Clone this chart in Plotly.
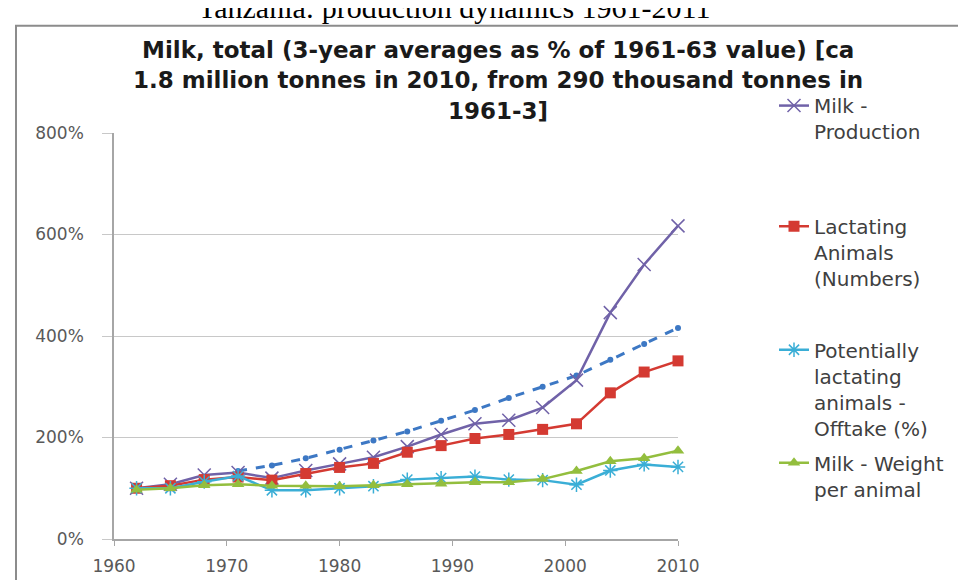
import plotly.graph_objects as go

# 3-year averages, % of 1961-63 value
years = [1962, 1965, 1968, 1971, 1974, 1977, 1980, 1983, 1986, 1989,
         1992, 1995, 1998, 2001, 2004, 2007, 2010]
milk_production = [100, 108, 126, 131, 120, 135, 148, 161, 182, 206,
                   227, 234, 259, 313, 446, 541, 617]
lactating_animals = [100, 105, 117, 122, 116, 129, 141, 149, 171, 184,
                     198, 206, 216, 227, 288, 329, 351]
offtake = [100, 100, 113, 124, 96, 96, 100, 104, 117, 120,
           123, 117, 116, 107, 135, 147, 142]
weight_per_animal = [97, 100, 106, 108, 105, 105, 104, 106, 108, 109,
                     112, 112, 118, 134, 153, 159, 174]
trend_years = [1971, 1974, 1977, 1980, 1983, 1986, 1989, 1992, 1995,
               1998, 2001, 2004, 2007, 2010]
trend = [134, 145, 159, 176, 194, 212, 233, 254, 278, 300, 322, 353, 384, 416]

y_ticks = [0, 200, 400, 600, 800]
y_labels = ["0%", "200%", "400%", "600%", "800%"]
x_ticks = [1960, 1970, 1980, 1990, 2000, 2010]

title_lines = ["Milk, total (3-year averages as % of 1961-63 value) [ca",
               "1.8 million tonnes in 2010, from 290 thousand tonnes in",
               "1961-3]"]
page_title = "Tanzania: production dynamics 1961-2011"

W, H = 966, 580
L, R, T, B = 106, 670, 125, 549


def px_x(p):
    return (p - L) / (R - L)


def px_y(p):
    return (B - p) / (B - T)


fig = go.Figure()

fig.add_scatter(x=trend_years, y=trend, mode="lines+markers", showlegend=False,
                name="trend", line=dict(color="#3D78C4", width=3, dash="dash"),
                marker=dict(size=6, color="#3D78C4"), cliponaxis=False)
fig.add_scatter(x=years, y=milk_production, mode="lines+markers",
                name="Milk -<br>Production", legend="legend",
                line=dict(color="#7062A8", width=2.5),
                marker=dict(symbol="x-thin", size=13, color="#7062A8",
                            line=dict(color="#7062A8", width=1.5)),
                cliponaxis=False)
fig.add_scatter(x=years, y=lactating_animals, mode="lines+markers",
                name="Lactating<br>Animals<br>(Numbers)", legend="legend2",
                line=dict(color="#D43A32", width=2.5),
                marker=dict(symbol="square", size=11, color="#D43A32"),
                cliponaxis=False)
fig.add_scatter(x=years, y=offtake, mode="lines+markers",
                name="Potentially<br>lactating<br>animals -<br>Offtake (%)",
                legend="legend3",
                line=dict(color="#3AAED6", width=2.5),
                marker=dict(symbol="asterisk-open", size=12, color="#3AAED6",
                            line=dict(color="#3AAED6", width=1.5)),
                cliponaxis=False)
fig.add_scatter(x=years, y=weight_per_animal, mode="lines+markers",
                name="Milk - Weight<br>per animal", legend="legend4",
                line=dict(color="#93BE3E", width=2.5),
                marker=dict(symbol="triangle-up", size=11, color="#93BE3E"),
                cliponaxis=False)

leg_font = dict(family="DejaVu Sans", size=20, color="#404040")
leg_common = dict(x=px_x(766), xanchor="left", yanchor="top", valign="top",
                  font=leg_font, bgcolor="rgba(0,0,0,0)", itemwidth=30)

fig.update_layout(
    width=W, height=H,
    margin=dict(l=L, r=W - R, t=T, b=H - B),
    paper_bgcolor="white", plot_bgcolor="white",
    font=dict(family="DejaVu Sans", color="#595959"),
    legend=dict(y=px_y(76), **leg_common),
    legend2=dict(y=px_y(202), **leg_common),
    legend3=dict(y=px_y(331), **leg_common),
    legend4=dict(y=px_y(449), **leg_common),
    xaxis=dict(range=[1960, 2010], tickvals=x_ticks, showgrid=False,
               showline=True, linecolor="#A6A6A6", linewidth=1.5,
               ticks="outside", ticklen=5, tickcolor="#A6A6A6",
               ticklabelstandoff=6,
               tickfont=dict(size=17, color="#595959"), zeroline=False),
    yaxis=dict(range=[0, 800], tickvals=y_ticks, ticktext=y_labels,
               showgrid=True, gridcolor="#C8C8C8", gridwidth=1.2,
               showline=True, linecolor="#A6A6A6", linewidth=1.5,
               ticks="outside", ticklen=10, tickcolor="#C8C8C8",
               ticklabelstandoff=15,
               tickfont=dict(size=17, color="#595959"), zeroline=False),
)

# chart frame
fig.add_shape(type="rect", xref="paper", yref="paper",
              x0=px_x(8), x1=px_x(962), y0=px_y(600), y1=px_y(13),
              line=dict(color="#8C8C8C", width=2), layer="below")

# page heading (cut at the top of the picture)
fig.add_annotation(text=page_title, xref="paper", yref="paper",
                   x=px_x(446), y=px_y(-6), xanchor="center", yanchor="middle",
                   showarrow=False,
                   font=dict(family="Liberation Serif", size=30, color="black"))

# chart title lines
for line, cy in zip(title_lines, [38, 70, 102]):
    fig.add_annotation(text="<b>%s</b>" % line, xref="paper", yref="paper",
                       x=px_x(490), y=px_y(cy), xanchor="center",
                       yanchor="middle", showarrow=False,
                       font=dict(family="DejaVu Sans", size=23, color="#1A1A1A"))

fig.write_html("out.html")
